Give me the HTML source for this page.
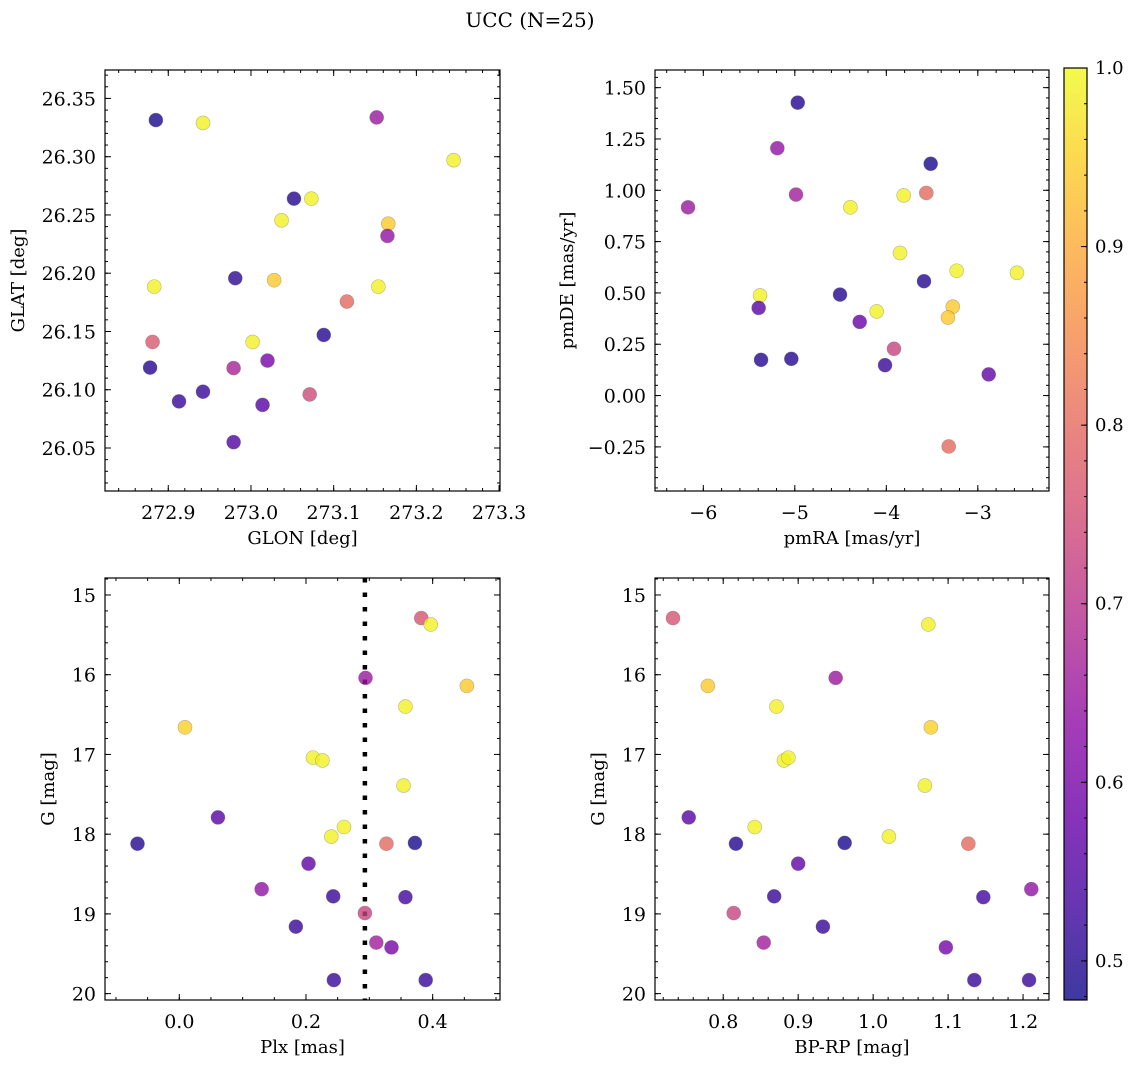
<!DOCTYPE html>
<html><head><meta charset="utf-8"><style>
html,body{margin:0;padding:0;background:#fff;}
svg{display:block;font-family:"DejaVu Serif","Liberation Serif",serif;}
</style></head><body>
<svg id="fig" width="1136" height="1068" viewBox="0 0 1136 1068" xmlns="http://www.w3.org/2000/svg">
<text x="530" y="27" font-size="20" text-anchor="middle">UCC (N=25)</text>
</svg>
<script>
// ---------- data ----------
const glon = [272.885,272.942,273.152,273.245,273.052,273.073,273.037,273.166,273.165,272.981,273.028,272.883,273.154,273.116,273.088,272.881,273.002,273.020,272.878,272.979,273.071,272.942,272.913,273.014,272.979];
const glat = [26.3314,26.329,26.3337,26.297,26.264,26.264,26.2454,26.2425,26.232,26.1957,26.194,26.1885,26.1885,26.1757,26.147,26.141,26.141,26.125,26.119,26.1186,26.096,26.0983,26.090,26.087,26.055];
const probTL = [0.49,0.99,0.65,0.99,0.5,0.99,0.99,0.94,0.64,0.51,0.94,0.99,0.99,0.8,0.5,0.77,0.99,0.6,0.5,0.67,0.74,0.52,0.52,0.56,0.55];

const pmra = [-4.968,-5.191,-3.515,-6.167,-4.987,-3.563,-4.393,-3.810,-3.850,-3.231,-2.572,-5.380,-4.506,-3.588,-5.395,-3.274,-4.105,-3.326,-4.291,-3.916,-5.369,-5.038,-4.014,-2.881,-3.318];
const pmde = [1.427,1.205,1.129,0.917,0.979,0.987,0.917,0.975,0.695,0.608,0.598,0.488,0.492,0.557,0.427,0.433,0.410,0.380,0.359,0.228,0.174,0.179,0.148,0.103,-0.248];
const probTR = [0.5,0.64,0.49,0.65,0.66,0.8,0.99,0.99,0.99,0.99,0.99,0.99,0.5,0.5,0.56,0.94,0.99,0.94,0.58,0.73,0.5,0.5,0.52,0.57,0.8];

const plx = [-0.066,0.009,0.061,0.130,0.184,0.204,0.211,0.226,0.240,0.260,0.243,0.244,0.294,0.293,0.311,0.335,0.327,0.382,0.397,0.454,0.357,0.354,0.372,0.357,0.389];
const gBL = [18.12,16.66,17.79,18.69,19.16,18.37,17.04,17.075,18.03,17.91,18.78,19.83,16.04,18.99,19.36,19.42,18.12,15.29,15.37,16.14,16.40,17.39,18.11,18.79,19.83];
const probBL = [0.5,0.95,0.56,0.64,0.52,0.57,0.99,0.99,0.99,0.99,0.52,0.52,0.65,0.73,0.66,0.6,0.8,0.76,0.99,0.94,0.99,0.99,0.49,0.53,0.52];

const bprp = [0.733,1.0736,0.7795,0.950,0.871,1.077,0.881,0.887,1.069,0.754,0.842,0.817,0.962,1.021,1.127,0.900,1.211,0.868,1.147,0.814,0.933,0.854,1.097,1.135,1.208];
const gBR = [15.29,15.37,16.14,16.04,16.40,16.66,17.075,17.04,17.39,17.79,17.91,18.12,18.11,18.03,18.12,18.37,18.69,18.78,18.79,18.99,19.16,19.36,19.42,19.83,19.83];
const probBR = [0.76,0.99,0.94,0.65,0.99,0.95,0.99,0.99,0.99,0.56,0.99,0.5,0.49,0.99,0.8,0.57,0.64,0.52,0.53,0.73,0.52,0.66,0.6,0.52,0.52];

const plxLine = [0.293];
const cbTicks = [0.5,0.6,0.7,0.8,0.9,1.0];
const cbLabels = ["0.5","0.6","0.7","0.8","0.9","1.0"];
const vmin = 0.4781, vmax = 1.0;

// ---------- helpers ----------
const NS="http://www.w3.org/2000/svg";
const svg=document.getElementById('fig');
function mk(tag,attrs,parent){const e=document.createElementNS(NS,tag);for(const k in attrs)e.setAttribute(k,attrs[k]);(parent||svg).appendChild(e);return e;}
const plasmaStops=["#0d0887","#41049d","#6a00a8","#8f0da4","#b12a90","#cc4778","#e16462","#f2844b","#fca636","#fcce25","#f0f921"];
function hex2rgb(h){return [parseInt(h.slice(1,3),16),parseInt(h.slice(3,5),16),parseInt(h.slice(5,7),16)];}
function plasma(t){t=Math.max(0,Math.min(1,t));const s=t*10,i=Math.min(9,Math.floor(s)),f=s-i;const a=hex2rgb(plasmaStops[i]),b=hex2rgb(plasmaStops[i+1]);return 'rgb('+a.map((v,k)=>Math.round(v+(b[k]-v)*f)).join(',')+')';}
function lin(d0,d1,r0,r1){return v=>r0+(v-d0)*(r1-r0)/(d1-d0);}
function fmt(v,dec){let s=Math.abs(v).toFixed(dec);return (v< -1e-9?'\u2212':'')+s;}

function panel(o){
  const g=mk('g',{});
  
  
  const X=lin(o.xd[0],o.xd[1],o.L,o.R), Y=lin(o.yd[0],o.yd[1],o.B,o.T);
  const ticks=mk('g',{stroke:'#000','stroke-width':1},g);
  
  
  function range(lo,hi,step){const a=[];const s=Math.ceil(lo/step-1e-9);for(let k=s;k*step<=hi+1e-9;k++)a.push(+(k*step).toFixed(6));return a;}
  const xlo=Math.min(...o.xd),xhi=Math.max(...o.xd),ylo=Math.min(...o.yd),yhi=Math.max(...o.yd);
  range(xlo,xhi,o.xminor).forEach(v=>{const x=X(v);mk('line',{x1:x,x2:x,y1:o.B,y2:o.B-3},ticks);mk('line',{x1:x,x2:x,y1:o.T,y2:o.T+3},ticks);});
  range(ylo,yhi,o.yminor).forEach(v=>{const y=Y(v);mk('line',{x1:o.L,x2:o.L+3,y1:y,y2:y},ticks);mk('line',{x1:o.R,x2:o.R-3,y1:y,y2:y},ticks);});
  range(xlo,xhi,o.xmajor).forEach(v=>{const x=X(v);mk('line',{x1:x,x2:x,y1:o.B,y2:o.B-6},ticks);mk('line',{x1:x,x2:x,y1:o.T,y2:o.T+6},ticks);
    const t=mk('text',{x:x,y:o.B+28,'font-size':19,'text-anchor':'middle'},g);t.textContent=fmt(v,o.xdec);
    
    });
  range(ylo,yhi,o.ymajor).forEach(v=>{const y=Y(v);mk('line',{x1:o.L,x2:o.L+6,y1:y,y2:y},ticks);mk('line',{x1:o.R,x2:o.R-6,y1:y,y2:y},ticks);
    const t=mk('text',{x:o.L-9,y:y+7,'font-size':19,'text-anchor':'end'},g);t.textContent=fmt(v,o.ydec);
    
    });
  if(o.vline){o.vline.forEach(v=>{const l=mk('line',{x1:X(v),x2:X(v),y1:o.T,y2:o.B,stroke:'#000','stroke-width':4.5,'stroke-dasharray':'4.5 10'},g);
    
    });}
  const pts=mk('g',{},g);
  
  
  o.xs.forEach((xv,i)=>{const c=mk('circle',{cx:X(xv),cy:Y(o.ys[i]),r:7,fill:plasma((o.ps[i]-vmin)/(vmax-vmin)),'fill-opacity':0.8,stroke:'#666','stroke-opacity':0.45,'stroke-width':0.6},pts);
    
    });
  const f=mk('rect',{x:o.L,y:o.T,width:o.R-o.L,height:o.B-o.T,fill:'none',stroke:'#000','stroke-width':1.2},g);
  
  
  const xl=mk('text',{x:(o.L+o.R)/2,y:o.B+53,'font-size':18,'text-anchor':'middle'},g);xl.textContent=o.xlabel;
  
  
  const yx=o.ylx,yy=(o.T+o.B)/2;
  const yl=mk('text',{x:yx,y:yy,'font-size':18,'text-anchor':'middle',transform:'rotate(-90 '+yx+' '+yy+')'},g);yl.textContent=o.ylabel;
  
  
}

panel({name:'glon-glat-panel',L:105,R:500,T:70,B:491,xd:[272.8235,273.3011],yd:[26.0131,26.3744],xmajor:0.1,xminor:0.02,ymajor:0.05,yminor:0.01,xdec:1,ydec:2,xs:glon,ys:glat,ps:probTL,xlabel:'GLON [deg]',ylabel:'GLAT [deg]',ylx:24});
panel({name:'pm-panel',L:655,R:1049,T:70,B:491,xd:[-6.528,-2.222],yd:[-0.4649,1.5860],xmajor:1,xminor:0.2,ymajor:0.25,yminor:0.05,xdec:0,ydec:2,xs:pmra,ys:pmde,ps:probTR,xlabel:'pmRA [mas/yr]',ylabel:'pmDE [mas/yr]',ylx:573});
panel({name:'plx-g-panel',L:105,R:500,T:578,B:1000,xd:[-0.1173,0.5063],yd:[20.080,14.787],xmajor:0.2,xminor:0.05,ymajor:1,yminor:0.2,xdec:1,ydec:0,xs:plx,ys:gBL,ps:probBL,vline:plxLine,xlabel:'Plx [mas]',ylabel:'G [mag]',ylx:54});
panel({name:'cmd-panel',L:655,R:1049,T:578,B:1000,xd:[0.7090,1.2346],yd:[20.080,14.787],xmajor:0.1,xminor:0.02,ymajor:1,yminor:0.2,xdec:1,ydec:0,xs:bprp,ys:gBR,ps:probBR,xlabel:'BP-RP [mag]',ylabel:'G [mag]',ylx:604});

const cb=mk('g',{});


const defs=mk('defs',{},cb);
const gr=mk('linearGradient',{id:'cbg',x1:0,y1:1,x2:0,y2:0},defs);
for(let i=0;i<=20;i++){mk('stop',{offset:i/20,'stop-color':plasma(i/20),'stop-opacity':0.8},gr);}
const CL=1064,CR=1087,CT=68,CB=1000;
const CY=lin(vmin,vmax,CB,CT);
mk('rect',{x:CL,y:CT,width:CR-CL,height:CB-CT,fill:'url(#cbg)'},cb);
for(let k=0;k<=26;k++){const v=0.48+k*0.02;if(v>vmax+1e-9)break;const y=CY(v);mk('line',{x1:CR,x2:CR-3,y1:y,y2:y,stroke:'#000','stroke-width':1},cb);}
cbTicks.forEach((v,i)=>{const y=CY(v);mk('line',{x1:CR,x2:CR-6,y1:y,y2:y,stroke:'#000','stroke-width':1},cb);
  const t=mk('text',{x:CR+8,y:y+6,'font-size':18},cb);t.textContent=cbLabels[i];
  
  });
mk('rect',{x:CL,y:CT,width:CR-CL,height:CB-CT,fill:'none',stroke:'#000','stroke-width':1.2},cb);
</script>
</body></html>
